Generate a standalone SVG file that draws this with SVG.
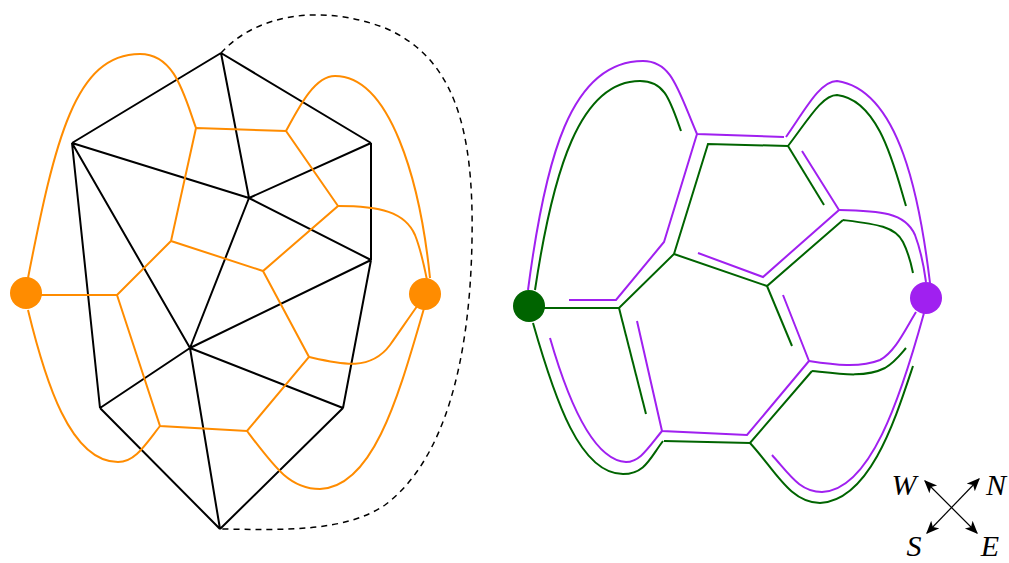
<svg xmlns="http://www.w3.org/2000/svg" width="1009" height="563" viewBox="0 0 1009 563">
<style>
.blk{stroke:#000;stroke-width:2;fill:none;stroke-linejoin:round}
.dash{stroke:#000;stroke-width:1.5;fill:none;stroke-dasharray:6 5}
.org{stroke:#FF8C00;stroke-width:2;fill:none;stroke-linejoin:miter}
.pur{stroke:#A020F0;stroke-width:2;fill:none;stroke-linejoin:miter}
.grn{stroke:#006400;stroke-width:2;fill:none;stroke-linejoin:miter}
.cmp{stroke:#000;stroke-width:1.2;fill:none}
.lbl{font-family:"Liberation Serif","Times New Roman",serif;font-style:italic;font-size:30px;fill:#000;text-anchor:middle}
</style>
<defs>
<marker id="ah" viewBox="0 0 10 10" refX="9" refY="5" markerWidth="13" markerHeight="13" markerUnits="userSpaceOnUse" orient="auto-start-reverse">
<path d="M0,0.8 L10,5 L0,9.2 L2.5,5 Z" fill="#000"/>
</marker>
</defs>
<rect width="1009" height="563" fill="#fff"/>
<g id="connectors">
<g id="triangulation">
<path class="blk" d="M221,53 L72,143 M221,53 L371,143 M221,53 L249,198 M72,143 L249,198 M72,143 L190,348 M72,143 L100,408 M371,143 L249,198 M371,143 L371,260 M249,198 L371,260 M249,198 L190,348 M371,260 L190,348 M371,260 L343,408 M190,348 L100,408 M190,348 L343,408 M190,348 L220,529 M100,408 L220,529 M343,408 L220,529"/>
<path class="dash" d="M221,53 C255,15 320,3 385,28 C455,58 474,130 472,240 C470,360 445,460 385,505 C345,532 285,530 221,529"/>
</g>
<g id="dual">
<path class="org" d="M196,128 L286,131 L338,206 L263,271 L171,241 L196,128 M171,241 L117,295 L26,295 M263,271 L309,357 L247,431 L160,426 L117,295"/>
<path class="org" d="M196,128 C184,95 175,54 140,54 C75,54 55,140 28,278"/>
<path class="org" d="M286,131 C300,105 315,76 335,76 C390,76 420,180 430,278"/>
<path class="org" d="M338,206 C380,206 405,212 415,235 C421,250 424,265 427,280"/>
<path class="org" d="M309,357 C340,364 370,372 390,345 C400,331 410,316 418,305"/>
<path class="org" d="M247,431 C275,468 290,489 320,489 C375,487 400,390 425,305"/>
<path class="org" d="M160,426 C145,445 135,462 118,462 C70,462 45,380 28,310"/>
</g>
<g id="purple-trace">
<path class="pur" d="M528,290 C545,160 570,61 643,61 C672,61 678,90 697,134 L784,137"/>
<path class="pur" d="M786,137 C805,110 820,81 837,81 C900,90 920,200 930,283"/>
<path class="pur" d="M697,134 L664,242 L616,300 L569,300"/>
<path class="pur" d="M802,151 L839,210 L763,277 L698,253"/>
<path class="pur" d="M839,210 C880,211 905,212 915,235 C921,251 924,267 926,282"/>
<path class="pur" d="M783,295 L809,361 L747,435 L662,431 L637,321"/>
<path class="pur" d="M809,361 C835,365 860,368 880,360 C895,352 905,330 916,312"/>
<path class="pur" d="M662,431 C648,448 640,462 626,462 C590,460 565,390 550,338"/>
<path class="pur" d="M772,455 C790,475 800,492 822,492 C870,490 900,400 924,313"/>
</g>
<g id="green-trace">
<path class="grn" d="M535,290 C553,170 580,81 640,81 C665,81 670,100 681,131"/>
<path class="grn" d="M788,146 L708,144 L674,254 L619,308 L529,308"/>
<path class="grn" d="M788,146 C808,120 822,95 837,95 C880,100 895,170 906,206"/>
<path class="grn" d="M788,146 L824,205"/>
<path class="grn" d="M674,254 L767,286 L843,220"/>
<path class="grn" d="M843,220 C875,224 895,226 903,242 C908,252 911,263 913,273"/>
<path class="grn" d="M767,286 L792,346"/>
<path class="grn" d="M619,308 L646,414"/>
<path class="grn" d="M812,371 L750,443 L664,441"/>
<path class="grn" d="M812,371 C840,374 865,378 885,368 C895,362 900,355 906,348"/>
<path class="grn" d="M750,443 C775,470 790,503 820,503 C870,500 895,420 913,366"/>
<path class="grn" d="M533,323 C555,400 580,474 623,474 C645,474 650,458 663,441"/>
</g>
</g>
<g id="node-orange-left"><circle cx="26" cy="293" r="16" fill="#FF8C00"/></g>
<g id="node-orange-right"><circle cx="425" cy="294" r="16" fill="#FF8C00"/></g>
<g id="node-green"><circle cx="529" cy="306" r="16" fill="#006400"/></g>
<g id="node-purple"><circle cx="926" cy="298" r="16" fill="#A020F0"/></g>
<g id="compass">
<line class="cmp" x1="925" y1="481" x2="977" y2="533" marker-start="url(#ah)" marker-end="url(#ah)"/>
<line class="cmp" x1="927" y1="533" x2="979" y2="479" marker-start="url(#ah)" marker-end="url(#ah)"/>
<text class="lbl" x="904" y="495">W</text>
<text class="lbl" x="996" y="495">N</text>
<text class="lbl" x="914" y="556">S</text>
<text class="lbl" x="990" y="556">E</text>
</g>
</svg>
